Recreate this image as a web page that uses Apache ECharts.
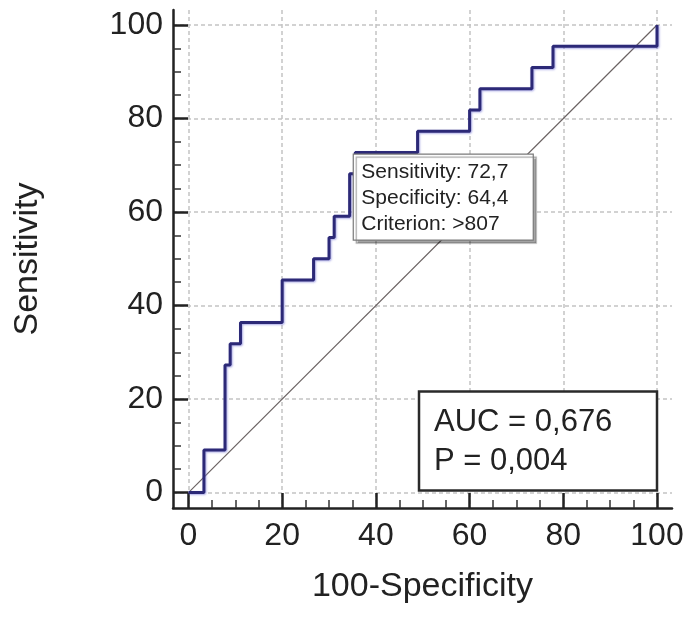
<!DOCTYPE html>
<html>
<head>
<meta charset="utf-8">
<script src="https://cdn.jsdelivr.net/npm/echarts@6/dist/echarts.min.js"></script>
<style>
html,body{margin:0;padding:0;background:#fff;}
#chart{width:693px;height:624px;}
</style>
</head>
<body>
<div id="chart"></div>
<script>
// ROC curve corner points: 100-Specificity (x) and Sensitivity (y)
var rocX = [0, 3.3, 3.3, 7.8, 7.8, 8.9, 8.9, 11.1, 11.1, 20, 20, 26.7, 26.7, 30, 30, 31.1, 31.1, 34.4, 34.4, 35.6, 35.6, 48.9, 48.9, 60, 60, 62.2, 62.2, 73.3, 73.3, 77.8, 77.8, 100, 100];
var rocY = [0, 0, 9.09, 9.09, 27.27, 27.27, 31.82, 31.82, 36.36, 36.36, 45.45, 45.45, 50, 50, 54.55, 54.55, 59.09, 59.09, 68.18, 68.18, 72.73, 72.73, 77.27, 77.27, 81.82, 81.82, 86.36, 86.36, 90.91, 90.91, 95.45, 95.45, 100];
var diagX = [0, 100];
var diagY = [0, 100];
var majorTicks = [0, 20, 40, 60, 80, 100];
var minorTicks = [5, 10, 15, 25, 30, 35, 45, 50, 55, 65, 70, 75, 85, 90, 95];
var optimalPoint = [35.6, 72.7];
var optimalLines = ['Sensitivity: 72,7', 'Specificity: 64,4', 'Criterion: >807'];
var statLines = ['AUC = 0,676', 'P = 0,004'];

var rocData = rocX.map(function (x, i) { return [x, rocY[i]]; });
var diagData = diagX.map(function (x, i) { return [x, diagY[i]]; });

var FONT = '"Liberation Sans", Arial, sans-serif';
var AMIN = -3.3, AMAX = 103.2;

function mainAxis(isX) {
  return {
    type: 'value',
    min: AMIN, max: AMAX,
    position: isX ? 'bottom' : 'left',
    name: isX ? '100-Specificity' : 'Sensitivity',
    nameLocation: 'middle',
    nameGap: isX ? 62 : 128,
    nameRotate: isX ? 0 : 90,
    nameTextStyle: { fontFamily: FONT, fontSize: 34, color: '#222' },
    axisLine: { show: true, onZero: false, lineStyle: { color: '#222', width: 2.5 } },
    axisTick: { show: true, inside: true, length: 15, customValues: majorTicks, lineStyle: { color: '#222', width: 2.5 } },
    axisLabel: { show: true, customValues: majorTicks, margin: isX ? 12 : 10, fontFamily: FONT, fontSize: 32, color: '#222' },
    splitLine: { show: true, lineStyle: { color: '#c4c4c4', width: 1.5, type: [4, 3] } },
    minorTick: { show: false }
  };
}
function minorAxis(isX) {
  return {
    type: 'value',
    min: AMIN, max: AMAX,
    position: isX ? 'bottom' : 'left',
    offset: 0,
    axisLine: { show: false, onZero: false },
    axisTick: { show: true, inside: true, length: 8, customValues: minorTicks, lineStyle: { color: '#333', width: 1.5 } },
    axisLabel: { show: false },
    splitLine: { show: false }
  };
}

var chart = echarts.init(document.getElementById('chart'));
chart.setOption({
  animation: false,
  backgroundColor: '#fff',
  grid: { left: 173, right: 21, top: 10, bottom: 116, containLabel: false },
  xAxis: [mainAxis(true), minorAxis(true)],
  yAxis: [mainAxis(false), minorAxis(false)],
  series: [{
    type: 'line',
    data: diagData,
    xAxisIndex: 0, yAxisIndex: 0,
    symbol: 'none',
    lineStyle: { color: '#6a6262', width: 1.2 },
    z: 2
  }, {
    type: 'line',
    data: rocData,
    xAxisIndex: 0, yAxisIndex: 0,
    symbol: 'none',
    lineStyle: { color: '#2c2977', width: 3, shadowColor: 'rgba(120,120,215,0.6)', shadowBlur: 2, shadowOffsetX: 1, shadowOffsetY: 1 },
    z: 3
  }]
});

// annotation boxes
var p = chart.convertToPixel({ xAxisIndex: 0, yAxisIndex: 0 }, optimalPoint);
var p100 = chart.convertToPixel({ xAxisIndex: 0, yAxisIndex: 0 }, [100, 0]);
var bw = 180, bh = 86;
var aw = 238, ah = 99;
chart.setOption({
  graphic: [{
    type: 'rect',
    x: p[0] - 2, y: p[1] + 1.5,
    z: 100,
    shape: { x: 0, y: 0, width: bw, height: bh },
    style: { fill: '#fff', stroke: '#7a7a7a', lineWidth: 1.2, shadowColor: 'rgba(0,0,0,0.35)', shadowOffsetX: 3, shadowOffsetY: 3, shadowBlur: 1 }
  }, {
    type: 'text',
    x: p[0] - 2 + 8, y: p[1] + 1.5 + 5,
    z: 101,
    style: { text: optimalLines.join('\n'), font: '21px ' + FONT, fill: '#222', lineHeight: 26 }
  }, {
    type: 'rect',
    x: p100[0] - aw, y: p100[1] - ah - 2,
    z: 100,
    shape: { x: 0, y: 0, width: aw, height: ah },
    style: { fill: '#fff', stroke: '#2a2a2a', lineWidth: 2.5 }
  }, {
    type: 'text',
    x: p100[0] - aw + 15, y: p100[1] - ah - 2 + 11,
    z: 101,
    style: { text: statLines.join('\n'), font: '31px ' + FONT, fill: '#222', lineHeight: 39 }
  }]
});
</script>
</body>
</html>
